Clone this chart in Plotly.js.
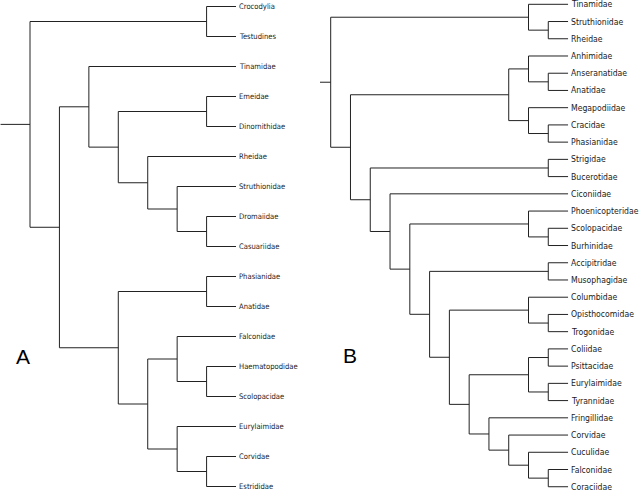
<!DOCTYPE html>
<html>
<head>
<meta charset="utf-8">
<script src="https://cdn.plot.ly/plotly-3.0.1.min.js"></script>
<style>html,body{margin:0;padding:0;background:#fff;}#chart{width:640px;height:490px;}</style>
</head>
<body>
<div id="chart"></div>
<script>
// ---- Data: tree topologies (nested clades) ----
const ratitesA = ["Tinamidae", [["Emeidae", "Dinornithidae"], ["Rheidae", ["Struthionidae", ["Dromaiidae", "Casuariidae"]]]]];
const neognathsA = [["Phasianidae", "Anatidae"], [["Falconidae", ["Haematopodidae", "Scolopacidae"]], ["Eurylaimidae", ["Corvidae", "Estrididae"]]]];
const outgroupA = ["Crocodylia", "Testudines"];
const treeA = [outgroupA, [ratitesA, neognathsA]];

const paleognathsB = ["Tinamidae", ["Struthionidae", "Rheidae"]];
const galloanseraeB = [["Anhimidae", ["Anseranatidae", "Anatidae"]], ["Megapodiidae", ["Cracidae", "Phasianidae"]]];
const passeriCladeB = ["Fringillidae", ["Corvidae", ["Cuculidae", ["Falconidae", "Coraciidae"]]]];
const landbirdsB = [[["Coliidae", "Psittacidae"], ["Eurylaimidae", "Tyrannidae"]], passeriCladeB];
const neoavesB = [["Strigidae", "Bucerotidae"],
  ["Ciconiidae",
    [["Phoenicopteridae", ["Scolopacidae", "Burhinidae"]],
      [["Accipitridae", "Musophagidae"],
        [["Columbidae", ["Opisthocomidae", "Trogonidae"]], landbirdsB]]]]];
const treeB = [paleognathsB, [galloanseraeB, neoavesB]];

const panelLabels = ["A", "B"];

// ---- Layout of a cladogram (leaves aligned, node depth by subtree height) ----
function layoutTree(tree) {
  const segX = [], segY = [], leaves = [];
  let leafIdx = 0;
  function height(n) { return typeof n === "string" ? 0 : 1 + Math.max(...n.map(height)); }
  const H = height(tree);
  function place(n) {
    if (typeof n === "string") {
      const p = {x: H, y: leafIdx++};
      leaves.push({name: n, x: p.x, y: p.y});
      return p;
    }
    const kids = n.map(place);
    const x = H - height(n);
    const y = (kids[0].y + kids[kids.length - 1].y) / 2;
    segX.push(x, x, null); segY.push(kids[0].y, kids[kids.length - 1].y, null);
    kids.forEach(k => { segX.push(x, k.x, null); segY.push(k.y, k.y, null); });
    return {x, y};
  }
  const root = place(tree);
  segX.push(root.x - 1, root.x, null); segY.push(root.y, root.y, null);
  return {segX, segY, leaves, H, n: leafIdx};
}

const A = layoutTree(treeA);
const B = layoutTree(treeB);

// pixel calibration (layout only)
const W = 640, Ht = 490;
const calA = {rootPx: 30, step: 29.43, y0: 6.5, dy: 30, px0: 0, px1: 320};
const calB = {rootPx: 330.7, step: 19.78, y0: 4.3, dy: 17.23, px0: 320, px1: 640};
function xr(c) { return [(c.px0 - c.rootPx) / c.step, (c.px1 - c.rootPx) / c.step]; }
function yr(c) { return [(Ht - c.y0) / c.dy, (0 - c.y0) / c.dy]; }

const lineStyle = {color: "#222", width: 1};
const traces = [
  {x: A.segX, y: A.segY, xaxis: "x", yaxis: "y", mode: "lines", line: lineStyle, hoverinfo: "skip", showlegend: false},
  {x: B.segX, y: B.segY, xaxis: "x2", yaxis: "y2", mode: "lines", line: lineStyle, hoverinfo: "skip", showlegend: false}
];

const fontFam = "DejaVu Sans Condensed, DejaVu Sans, sans-serif";
const leafFontA = {family: fontFam, size: 7.6, color: "#1a1a1a"};
const leafFontB = {family: fontFam, size: 8.6, color: "#1a1a1a"};
const annotations = [];
A.leaves.forEach(l => annotations.push({x: l.x, y: l.y, xref: "x", yref: "y", text: l.name, showarrow: false, xanchor: "left", yanchor: "middle", xshift: 1.5, borderpad: 0, font: leafFontA}));
B.leaves.forEach(l => annotations.push({x: l.x, y: l.y, xref: "x2", yref: "y2", text: l.name, showarrow: false, xanchor: "left", yanchor: "middle", xshift: 1.5, borderpad: 0, font: leafFontB}));
const letterPos = [[23, 356], [350, 355]];
panelLabels.forEach((t, i) => annotations.push({
  x: letterPos[i][0] / W, y: 1 - letterPos[i][1] / Ht, xref: "paper", yref: "paper",
  text: t, showarrow: false, xanchor: "center", yanchor: "middle",
  font: {family: "Liberation Sans, Arial, sans-serif", size: 21, color: "#000"}
}));

const hidden = {visible: false, showgrid: false, zeroline: false, fixedrange: true};
const layout = {
  width: W, height: Ht,
  margin: {l: 0, r: 0, t: 0, b: 0, pad: 0},
  paper_bgcolor: "#fff", plot_bgcolor: "rgba(0,0,0,0)",
  showlegend: false,
  xaxis: Object.assign({}, hidden, {domain: [0, 0.5], range: xr(calA), anchor: "y"}),
  yaxis: Object.assign({}, hidden, {domain: [0, 1], range: yr(calA), anchor: "x"}),
  xaxis2: Object.assign({}, hidden, {domain: [0.5, 1], range: xr(calB), anchor: "y2"}),
  yaxis2: Object.assign({}, hidden, {domain: [0, 1], range: yr(calB), anchor: "x2"}),
  annotations
};

Plotly.newPlot("chart", traces, layout, {staticPlot: true, displayModeBar: false});
</script>
</body>
</html>
